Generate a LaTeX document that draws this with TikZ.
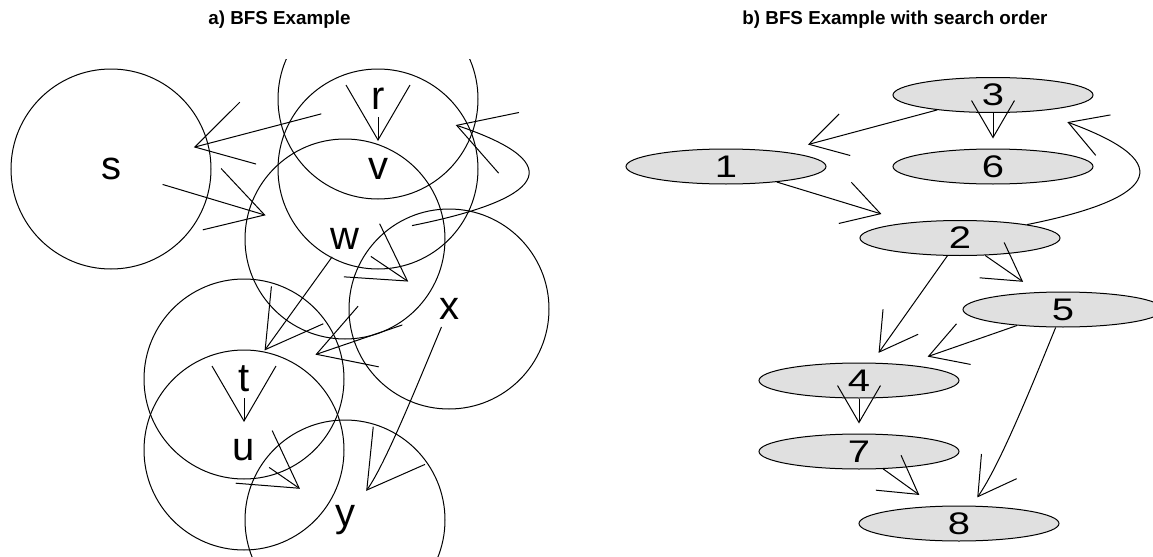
\documentclass[tikz,border=0pt]{standalone}
\usepackage{fontspec}
\setmainfont{Liberation Sans}
\usepackage{graphicx}
\usetikzlibrary{arrows.meta,shapes.geometric}
\definecolor{nodegray}{RGB}{224,224,224}
\newcommand{\squash}[1]{\scalebox{1}[0.78]{#1}}
\begin{document}
\begin{tikzpicture}[x=0.5pt, y=-0.5pt, line width=0.5pt,
  title/.style={font=\fontsize{9.4}{11}\selectfont\bfseries, anchor=base},
  vtx/.style={ellipse, minimum width=100pt, minimum height=17.5pt, inner sep=0pt, font=\fontsize{20}{24}\selectfont},
  ord/.style={vtx, draw, fill=nodegray},
  bigarr/.style={-{Straight Barb[length=27.5pt, width=32pt]}},
  smallarr/.style={-{Straight Barb[length=18.5pt, width=21.5pt]}}]
\useasboundingbox (0,0) rectangle (1153,557);

% titles
\node[title] (ta) at (279.5,25) {a) BFS Example};
\node[title] (tb) at (895,25) {b) BFS Example with search order};

% a) the graph
\begin{scope}
\clip (0,59) rectangle (576,557);
\node[vtx] (s) at (111,169) {s};
\node[vtx] (r) at (378,99) {r};
\node[vtx] (v) at (378,169) {v};
\node[vtx] (w) at (345,239) {w};
\node[vtx] (x) at (449,309) {x};
\node[vtx] (t) at (244,379) {t};
\node[vtx] (u) at (244,450) {u};
\node[vtx] (y) at (345,520) {y};
\foreach \n in {s,r,v,w,x,t,u,y}
  \draw (\n.center) circle[radius=100];
\draw[bigarr, shorten >=13.5pt] (r) -- (s);
\draw[bigarr, shorten >=5pt] (r) -- (v);
\draw[bigarr, shorten >=14.5pt] (s) -- (w);
\draw[bigarr, shorten >=16pt] (w) .. controls (540,200) and (575,165) .. (r);
\draw[bigarr, shorten >=6pt] (w) -- (t);
\draw[bigarr, shorten >=9pt] (w) -- (x);
\draw[bigarr, shorten >=12pt] (x) -- (t);
\draw[bigarr, shorten >=5pt] (x) .. controls (418,383) and (385,465) .. (y);
\draw[bigarr, shorten >=5pt] (t) -- (u);
\draw[bigarr, shorten >=9.5pt] (u) -- (y);
\end{scope}

% b) same graph, numbered in search order
\node[ord] (n1) at (726,166.5) {\squash{1}};
\node[ord] (n3) at (993,95) {\squash{3}};
\node[ord] (n6) at (993,166.5) {\squash{6}};
\node[ord] (n2) at (960,238) {\squash{2}};
\node[ord] (n5) at (1063,309.5) {\squash{5}};
\node[ord] (n4) at (859,380.5) {\squash{4}};
\node[ord] (n7) at (859,451.5) {\squash{7}};
\node[ord] (n8) at (959,523.5) {\squash{8}};
\draw[smallarr, shorten >=13.5pt] (n3) -- (n1);
\draw[smallarr, shorten >=5pt] (n3) -- (n6);
\draw[smallarr, shorten >=14.5pt] (n1) -- (n2);
\draw[smallarr, shorten >=16pt] (n2) .. controls (1150,200) and (1185,165) .. (n3);
\draw[smallarr, shorten >=6pt] (n2) -- (n4);
\draw[smallarr, shorten >=9pt] (n2) -- (n5);
\draw[smallarr, shorten >=12pt] (n5) -- (n4);
\draw[smallarr, shorten >=5pt] (n5) .. controls (1033,383) and (1000,465) .. (n8);
\draw[smallarr, shorten >=5pt] (n4) -- (n7);
\draw[smallarr, shorten >=9.5pt] (n7) -- (n8);
\end{tikzpicture}
\end{document}
